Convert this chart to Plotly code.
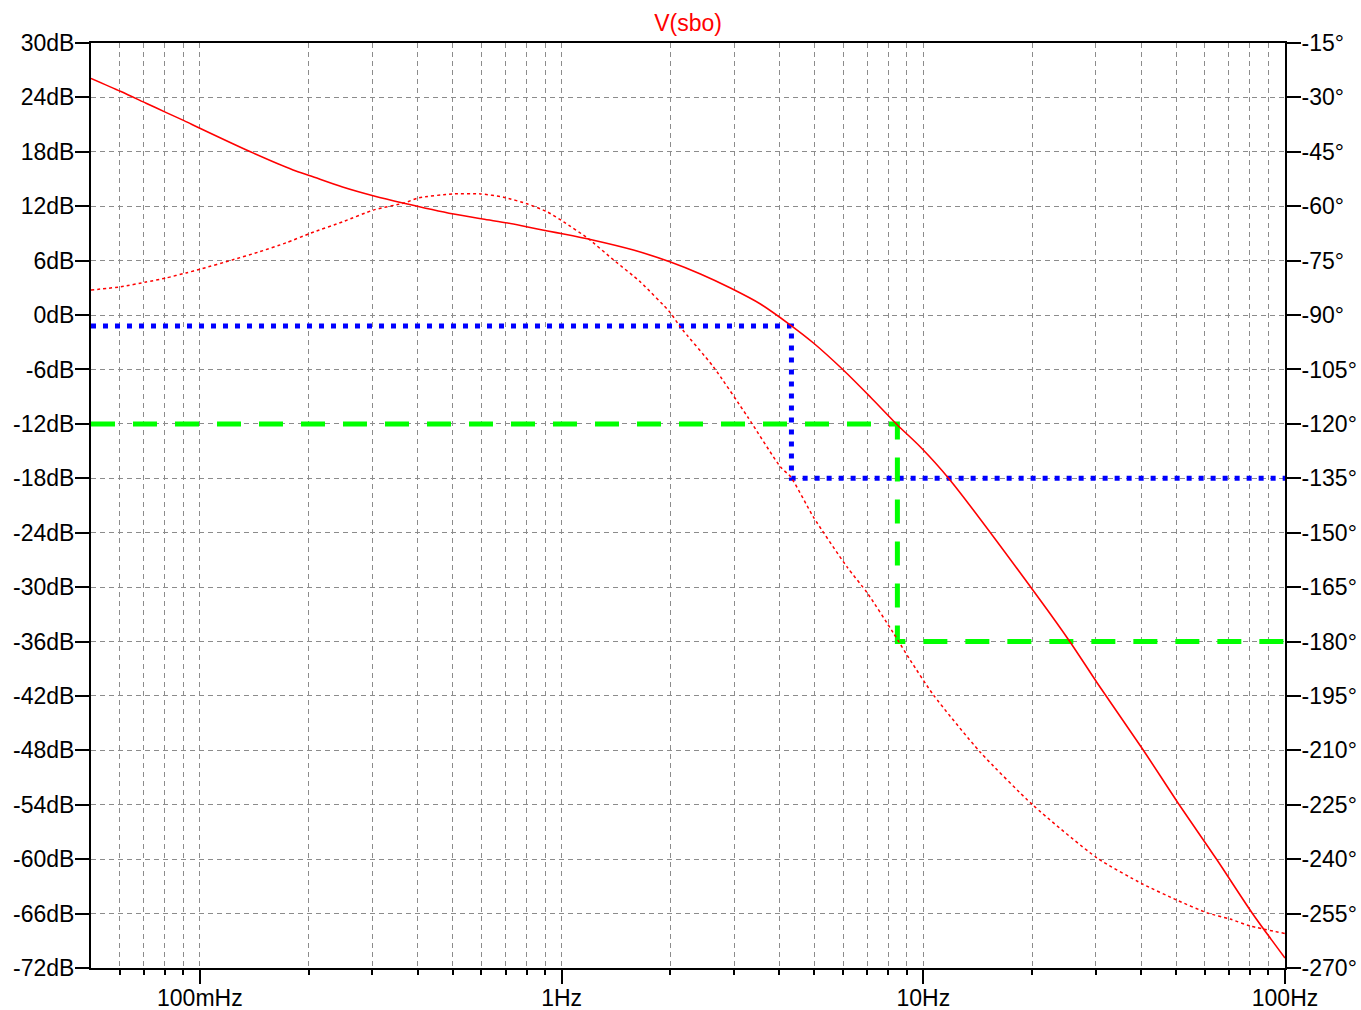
import plotly.graph_objects as go

# Frequency sweep limits (Hz) and axis spans
F_START = 0.05
F_STOP = 100.0
DB_MIN, DB_MAX = -72, 30
DEG_MIN, DEG_MAX = -270, -15

# Magnitude of V(sbo)
freq_mag = [0.05, 0.0605, 0.071, 0.0805, 0.0904, 0.1, 0.138, 0.181, 0.2027, 0.248,
            0.303, 0.364, 0.503, 0.605, 0.71, 0.806, 0.915, 1.013, 1.218, 1.58,
            2.0, 2.42, 2.93, 3.546, 4.292, 4.97, 6.01, 7.14, 8.48,
            9.82, 11.73, 21.04, 25.46, 30.26, 40.55, 50.6, 64.9, 81.1, 100.0]
mag_db = [26.1, 24.65, 23.36, 22.35, 21.44, 20.6, 18.0, 16.0, 15.33, 14.12,
          13.13, 12.36, 11.14, 10.59, 10.15, 9.71, 9.27, 8.94, 8.28, 7.17,
          5.85, 4.53, 2.98, 1.22, -1.10, -3.08, -6.06, -9.04, -12.12,
          -14.55, -17.97, -31.42, -36.05, -40.57, -47.96, -53.8, -60.09, -65.93, -70.9]

# Phase of V(sbo)
freq_phase = [0.05, 0.0605, 0.071, 0.0805, 0.0915, 0.1006, 0.123, 0.1456, 0.173, 0.2027,
              0.248, 0.303, 0.367, 0.403, 0.5, 0.597, 0.691, 0.806, 0.915, 1.013,
              1.18, 1.392, 1.652, 2.0, 2.13, 2.63, 3.27, 4.03, 4.3, 4.97,
              6.16, 7.0, 8.26, 9.2, 10.66, 14.37, 20.1, 30.26, 40.3, 50.3,
              60.9, 70.5, 80.0, 100.0]
phase_deg = [-83.1, -82.2, -80.9, -79.8, -78.4, -77.3, -74.8, -72.6, -70.1, -67.4,
             -64.3, -61.0, -59.1, -57.7, -56.6, -56.6, -57.5, -59.4, -61.6, -64.3,
             -68.8, -74.8, -80.9, -89.4, -93.3, -104.3, -118.1, -131.9, -134.6, -145.7,
             -159.5, -166.6, -177.6, -185.1, -194.7, -210.5, -225.1, -239.7, -246.8, -251.3,
             -254.8, -256.5, -258.4, -260.5]

# Cursor readouts: gain level, frequency and phase at that frequency
cursor_freq = [4.32, 8.48]
cursor_gain_db = [-1.2, -12.0]
cursor_phase_deg = [-135.0, -180.0]

# Tick labels
db_ticks = list(range(DB_MIN, DB_MAX + 1, 6))
deg_ticks = list(range(DEG_MIN, DEG_MAX + 1, 15))
freq_ticks = [0.1, 1, 10, 100]
freq_tick_text = ["100mHz", "1Hz", "10Hz", "100Hz"]
freq_minor = [m * d for d in (0.01, 0.1, 1, 10) for m in range(2, 10) if F_START < m * d < F_STOP]

FONT = "Liberation Sans"
FONT_SIZE = 23
GRID = "#8c8c8c"
GRID_DASH = "5px,4px"


def phase_to_db(p):
    """Map a phase value onto the dB axis so both scales share one plot."""
    return DB_MIN + (p - DEG_MIN) * (DB_MAX - DB_MIN) / (DEG_MAX - DEG_MIN)


fig = go.Figure()

cursor_styles = [
    dict(color="#0000ff", width=5, dash="5px,7px"),
    dict(color="#00ff00", width=5, dash="24px,18px"),
]
for f, g, p, style in zip(cursor_freq, cursor_gain_db, cursor_phase_deg, cursor_styles):
    fig.add_trace(go.Scatter(
        x=[F_START, f, f, F_STOP],
        y=[g, g, phase_to_db(p), phase_to_db(p)],
        mode="lines", line=style, yaxis="y", hoverinfo="skip",
    ))

fig.add_trace(go.Scatter(
    x=freq_mag, y=mag_db, mode="lines", name="magnitude",
    line=dict(color="#ff0000", width=1.6, shape="spline", smoothing=0.8),
    yaxis="y",
))
fig.add_trace(go.Scatter(
    x=freq_phase, y=phase_deg, mode="lines", name="phase",
    line=dict(color="#ff0000", width=1.5, dash="3px,3px", shape="spline", smoothing=0.6),
    yaxis="y2",
))

fig.update_layout(
    width=1361, height=1010,
    margin=dict(l=91, r=76, t=43, b=42, pad=0),
    paper_bgcolor="white", plot_bgcolor="white",
    showlegend=False,
    font=dict(family=FONT, size=FONT_SIZE, color="black"),
    title=dict(text="V(sbo)", x=0.5, xref="paper", xanchor="center",
               y=1 - 23 / 1010, yref="container", yanchor="middle",
               font=dict(family=FONT, size=FONT_SIZE, color="#ff0000")),
    xaxis=dict(
        type="log", range=[-1.301, 2.0], automargin=False,
        tickmode="array", tickvals=freq_ticks, ticktext=freq_tick_text,
        ticks="outside", ticklen=14, tickwidth=2, tickcolor="black",
        ticklabelstandoff=-6,
        showline=True, linecolor="black", linewidth=2, mirror=True,
        showgrid=True, gridcolor=GRID, gridwidth=1, griddash=GRID_DASH,
        minor=dict(tickvals=freq_minor, ticks="outside", ticklen=5, tickwidth=1.5,
                   tickcolor="black", showgrid=True, gridcolor=GRID, gridwidth=1,
                   griddash=GRID_DASH),
        zeroline=False, fixedrange=True,
    ),
    yaxis=dict(
        range=[DB_MIN, DB_MAX], automargin=False,
        tickmode="array", tickvals=db_ticks, ticktext=[f"{v}dB" for v in db_ticks],
        ticks="outside", ticklen=14, tickwidth=2, tickcolor="black",
        ticklabelstandoff=-4,
        showline=True, linecolor="black", linewidth=2,
        showgrid=True, gridcolor=GRID, gridwidth=1, griddash=GRID_DASH,
        zeroline=False, fixedrange=True,
    ),
    yaxis2=dict(
        range=[DEG_MIN, DEG_MAX], overlaying="y", side="right", automargin=False,
        tickmode="array", tickvals=deg_ticks, ticktext=[f"{v}°" for v in deg_ticks],
        ticks="outside", ticklen=14, tickwidth=2, tickcolor="black",
        ticklabelstandoff=-4,
        showline=True, linecolor="black", linewidth=2,
        showgrid=False, zeroline=False, fixedrange=True,
    ),
)

fig.write_html("out.html", config={"displayModeBar": False})
